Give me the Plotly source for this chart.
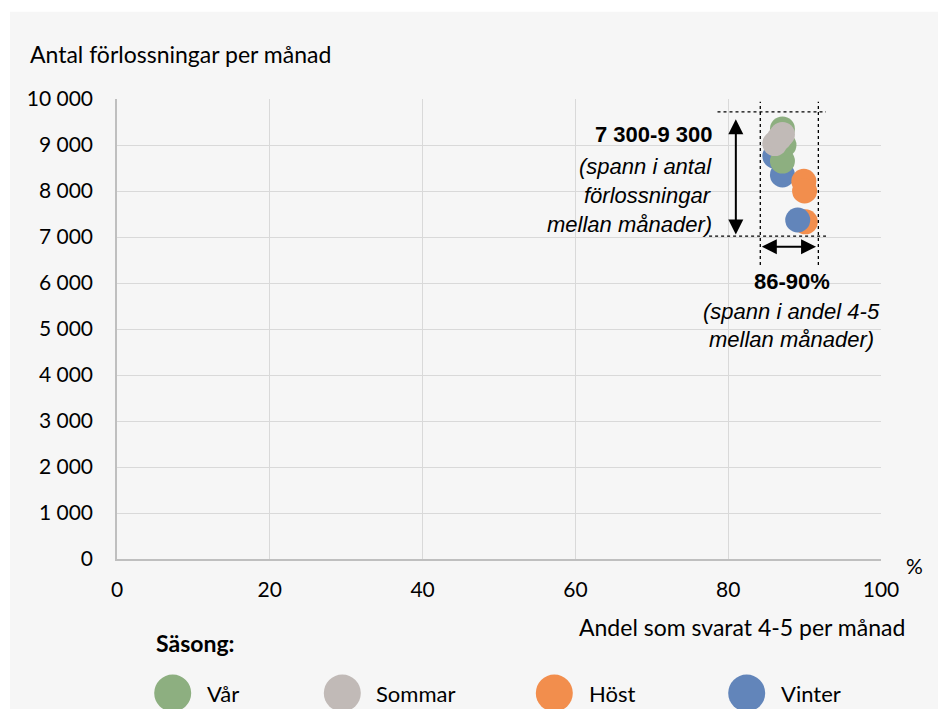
import plotly.graph_objects as go

# ---- data ----
months = ["jan", "feb", "mar", "apr", "maj", "jun", "jul", "aug", "sep", "okt", "nov", "dec"]
seasons = ["Vinter", "Vinter", "Vår", "Vår", "Vår", "Sommar", "Sommar", "Sommar", "Höst", "Höst", "Höst", "Vinter"]
share_4_5 = [86.1, 87.1, 87.3, 87.1, 87.1, 86.1, 87.1, 86.7, 89.9, 90.0, 90.1, 89.1]
births = [8760, 8350, 9000, 8650, 9350, 9030, 9230, 9150, 8210, 8000, 7330, 7370]

legend_seasons = ["Vår", "Sommar", "Höst", "Vinter"]
season_colors = {"Vår": "#8daf80", "Sommar": "#c1bab7", "Höst": "#f28e4d", "Vinter": "#6285ba"}

x_ticks = [0, 20, 40, 60, 80, 100]
y_ticks = list(range(0, 10001, 1000))

# ---- layout geometry (pixels) ----
W, H = 938, 709
L, R, T, B = 117, 881, 99.3, 559
PW, PH = R - L, B - T


def px(xp):
    return (xp - L) / PW


def py(yp):
    return (B - yp) / PH


FONT = "Lato"
ARIAL = "Liberation Sans"
BG = "#f6f6f6"

fig = go.Figure()
fig.add_trace(go.Scatter(
    x=share_4_5, y=births, mode="markers",
    marker=dict(size=25, color=[season_colors[s] for s in seasons], line=dict(width=0), opacity=1),
    text=months, showlegend=False, hoverinfo="text+x+y",
))

shapes = []
annotations = []

# white border strips outside the grey panel
shapes.append(dict(type="rect", xref="paper", yref="paper", x0=px(0), x1=px(W), y0=py(0), y1=py(12),
                   fillcolor="white", line=dict(width=0), layer="below"))
shapes.append(dict(type="rect", xref="paper", yref="paper", x0=px(0), x1=px(10), y0=py(0), y1=py(H),
                   fillcolor="white", line=dict(width=0), layer="below"))

# dotted guide lines
dot = dict(color="black", width=1.3, dash="dot")
shapes.append(dict(type="line", xref="x", yref="y", x0=78.6, x1=92.8, y0=9720, y1=9720, line=dot))
shapes.append(dict(type="line", xref="x", yref="y", x0=77.5, x1=92.8, y0=7020, y1=7020, line=dot))
shapes.append(dict(type="line", xref="x", yref="y", x0=84.2, x1=84.2, y0=6390, y1=9940, line=dot))
shapes.append(dict(type="line", xref="x", yref="y", x0=91.8, x1=91.8, y0=6390, y1=9940, line=dot))

# double arrows
annotations.append(dict(x=81.0, y=9560, ax=81.0, ay=7020, axref="x", ayref="y", xref="x", yref="y",
                        text="", showarrow=True, arrowhead=2, startarrowhead=2, arrowside="end+start",
                        arrowsize=1.5, startarrowsize=1.5, arrowwidth=2, arrowcolor="black"))
annotations.append(dict(x=91.5, y=6790, ax=84.2, ay=6790, axref="x", ayref="y", xref="x", yref="y",
                        text="", showarrow=True, arrowhead=2, startarrowhead=2, arrowside="end+start",
                        arrowsize=1.5, startarrowsize=1.5, arrowwidth=2, arrowcolor="black"))

# span texts
left_lines = [("<b>7 300-9 300</b>", 9222, 22), ("<i>(spann i antal</i>", 8534, 22),
              ("<i>förlossningar</i>", 7900, 22), ("<i>mellan månader)</i>", 7266, 22)]
for t, yv, fs in left_lines:
    annotations.append(dict(x=78.1, y=yv, xref="x", yref="y", text=t, showarrow=False,
                            xanchor="right", yanchor="middle", font=dict(family=ARIAL, size=fs, color="black")))
right_lines = [("<b>86-90%</b>", 6032), ("<i>(spann i andel 4-5</i>", 5390), ("<i>mellan månader)</i>", 4764)]
for t, yv in right_lines:
    annotations.append(dict(x=88.3, y=yv, xref="x", yref="y", text=t, showarrow=False,
                            xanchor="center", yanchor="middle", font=dict(family=ARIAL, size=22, color="black")))

# axis titles
annotations.append(dict(x=px(28), y=py(54), xref="paper", yref="paper", text="Antal förlossningar per månad",
                        showarrow=False, xanchor="left", yanchor="middle", font=dict(family=FONT, size=23, color="black")))
annotations.append(dict(x=px(907), y=py(627), xref="paper", yref="paper", text="Andel som svarat 4-5 per månad",
                        showarrow=False, xanchor="right", yanchor="middle", font=dict(family=FONT, size=23, color="black")))
annotations.append(dict(x=px(914), y=py(565), xref="paper", yref="paper", text="%",
                        showarrow=False, xanchor="center", yanchor="middle", font=dict(family=FONT, size=21, color="black")))

# custom legend
annotations.append(dict(x=px(154), y=py(643), xref="paper", yref="paper", text="<b>Säsong:</b>",
                        showarrow=False, xanchor="left", yanchor="middle", font=dict(family=FONT, size=23, color="black")))
leg_circle_x = [172.7, 342.3, 554.3, 746.7]
leg_text_x = [205, 374, 587, 779]
for s, cx, tx in zip(legend_seasons, leg_circle_x, leg_text_x):
    shapes.append(dict(type="circle", xref="paper", yref="paper", xsizemode="pixel", ysizemode="pixel",
                       xanchor=px(cx), yanchor=py(693), x0=-18.5, x1=18.5, y0=-18.5, y1=18.5,
                       fillcolor=season_colors[s], line=dict(width=0)))
    annotations.append(dict(x=px(tx), y=py(693), xref="paper", yref="paper", text=s, showarrow=False,
                            xanchor="left", yanchor="middle", font=dict(family=FONT, size=22, color="black")))

fig.update_layout(
    width=W, height=H,
    margin=dict(l=L, r=W - R, t=T, b=H - B, pad=0),
    paper_bgcolor=BG, plot_bgcolor=BG,
    separators=", ",
    font=dict(family=FONT, size=21, color="black"),
    shapes=shapes, annotations=annotations,
    showlegend=False,
)
fig.update_xaxes(range=[0, 100], tickvals=x_ticks, showgrid=True, gridcolor="#d9d9d9", gridwidth=1,
                 showline=True, linecolor="#bfbfbf", linewidth=1.5, zeroline=False,
                 ticks="", ticklabelstandoff=11, tickfont=dict(family=FONT, size=21))
fig.update_yaxes(range=[0, 10000], tickvals=y_ticks, tickformat=",d", showgrid=True, gridcolor="#d9d9d9",
                 gridwidth=1, showline=True, linecolor="#bfbfbf", linewidth=1.5, zeroline=False,
                 ticks="", ticklabelstandoff=18, tickfont=dict(family=FONT, size=21))

fig.write_html("out.html", config={"displayModeBar": False},
               post_script="document.body.style.margin='0';")
